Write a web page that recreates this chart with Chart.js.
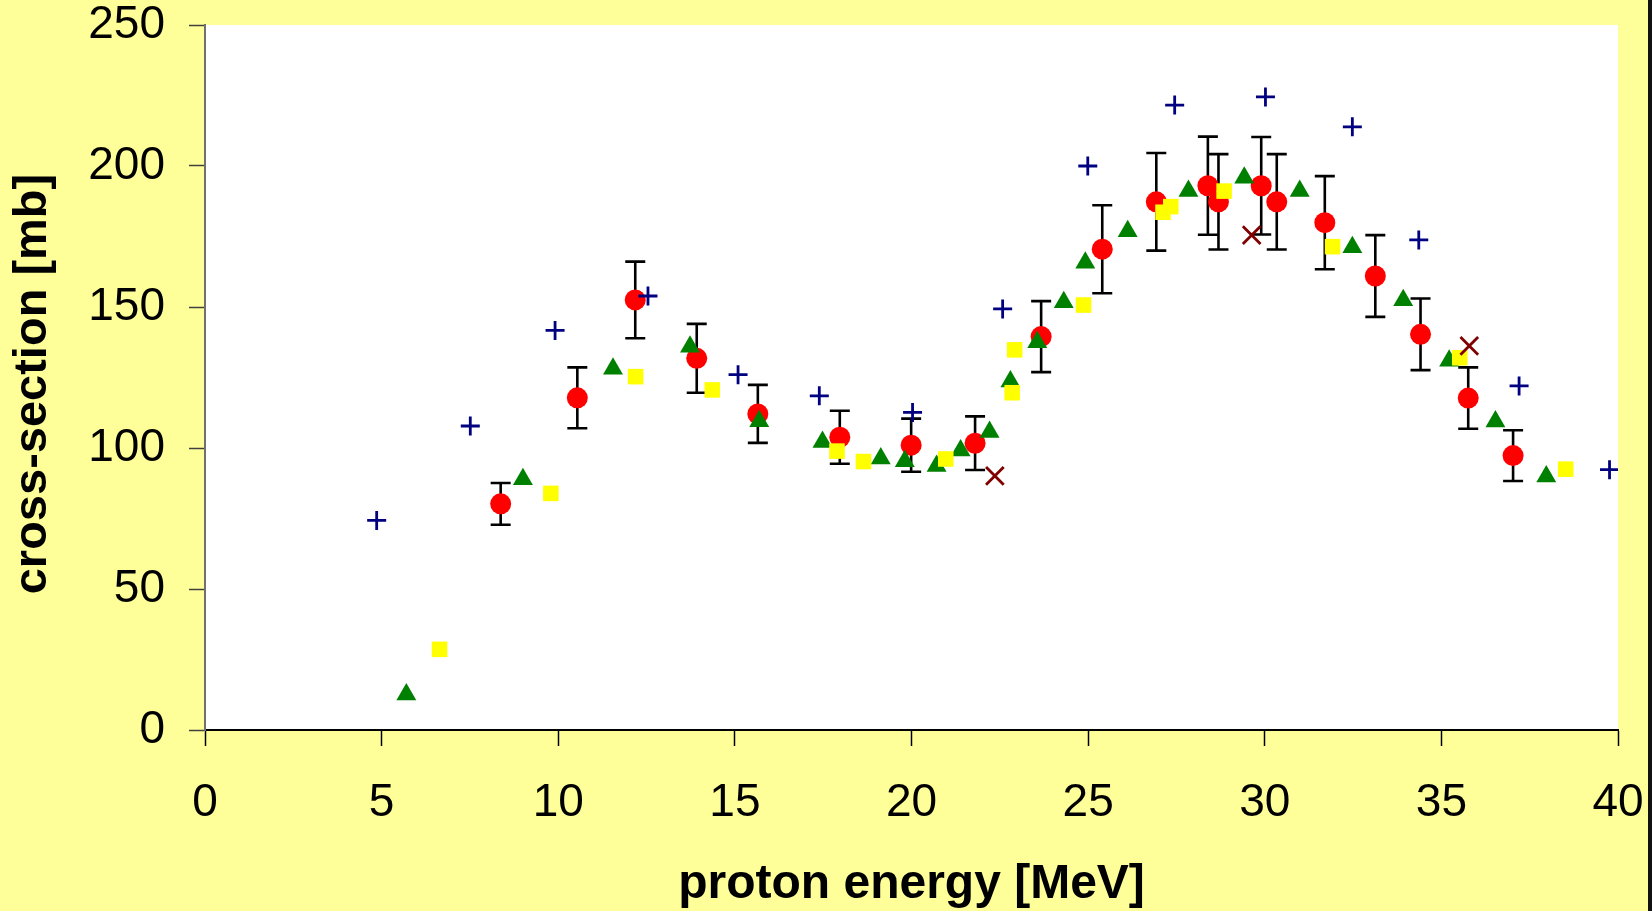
<!DOCTYPE html>
<html>
<head>
<meta charset="utf-8">
<title>Proton-induced cross-section</title>
<script src="https://cdn.jsdelivr.net/npm/chart.js@4/dist/chart.umd.min.js"></script>
<style>
  html, body { margin: 0; padding: 0; background: #FFFF99; }
  #wrap { width: 1652px; height: 911px; position: relative; }
  canvas { display: block; }
</style>
</head>
<body>
<div id="wrap"><canvas id="chart" width="1652" height="911"></canvas></div>
<script>
// Energy / cross-section data sets (MeV, mb)
const plusX = [4.86, 7.51, 9.91, 12.54, 15.09, 17.39, 20.03, 22.58, 24.99, 27.45, 30.02, 32.48, 34.36, 37.20, 39.76];
const plusY = [74.3, 107.8, 141.7, 153.9, 126.0, 118.5, 112.6, 149.3, 200.0, 221.6, 224.5, 213.9, 173.8, 122.0, 92.3];

const redX = [8.37, 10.54, 12.18, 13.92, 15.65, 17.97, 19.99, 21.80, 23.67, 25.40, 26.93, 28.39, 28.69, 29.90, 30.34, 31.70, 33.13, 34.41, 35.76, 37.03];
const redY = [80.2, 117.8, 152.5, 131.8, 112.1, 103.8, 101.0, 101.7, 139.5, 170.5, 187.3, 193.0, 187.3, 193.0, 187.3, 179.9, 161.0, 140.3, 117.7, 97.3];
const redErr = [7.4, 10.8, 13.6, 12.2, 10.3, 9.4, 9.4, 9.5, 12.6, 15.6, 17.3, 17.4, 16.9, 17.3, 16.9, 16.5, 14.5, 12.7, 10.9, 9.0];

const greenX = [5.70, 9.00, 11.55, 13.73, 15.69, 17.48, 19.13, 19.81, 20.71, 21.39, 22.21, 22.80, 23.56, 24.31, 24.92, 26.12, 27.84, 29.42, 30.99, 32.48, 33.92, 35.22, 36.53, 37.97];
const greenY = [12.6, 88.9, 128.1, 135.9, 109.5, 102.1, 96.3, 95.3, 93.6, 99.1, 105.7, 123.6, 137.5, 151.7, 165.7, 176.9, 191.1, 195.8, 191.1, 171.2, 152.4, 130.9, 109.4, 89.9];

const yellowX = [6.64, 9.79, 12.19, 14.36, 17.89, 18.64, 20.97, 22.85, 22.92, 24.87, 27.12, 27.34, 28.85, 31.92, 35.52, 38.52];
const yellowY = [28.6, 83.9, 125.3, 120.6, 98.9, 95.2, 96.1, 119.6, 134.8, 150.7, 183.6, 185.6, 191.1, 171.4, 132.0, 92.5];

const crossX = [22.36, 29.63, 35.79];
const crossY = [90.1, 175.5, 136.2];

// Axis ranges and tick steps
const xRange = [0, 40], xStep = 5;
const yRange = [0, 250], yStep = 50;

const pts = (xs, ys) => xs.map((x, i) => ({ x, y: ys[i] }));

// Page background, white plot area and the dark strip on the right edge
const backdrop = {
  id: 'backdrop',
  beforeDraw(chart) {
    const { ctx, chartArea: a, width, height } = chart;
    ctx.save();
    ctx.fillStyle = '#FFFF99';
    ctx.fillRect(0, 0, width, height);
    ctx.fillStyle = '#FFFFFF';
    ctx.fillRect(a.left, a.top, a.right - a.left, a.bottom - a.top);
    ctx.fillStyle = '#111111';
    ctx.fillRect(width - 4, 0, 4, height);
    ctx.restore();
  }
};

// Vertical error bars with caps for the red series
const errorBars = {
  id: 'errorBars',
  beforeDatasetsDraw(chart) {
    const { ctx, scales: { x, y } } = chart;
    ctx.save();
    ctx.strokeStyle = '#000000';
    ctx.lineWidth = 2.6;
    ctx.lineCap = 'butt';
    const cap = 10;
    redX.forEach((ex, i) => {
      const px = x.getPixelForValue(ex);
      const top = y.getPixelForValue(redY[i] + redErr[i]);
      const bot = y.getPixelForValue(redY[i] - redErr[i]);
      ctx.beginPath();
      ctx.moveTo(px, top); ctx.lineTo(px, bot);
      ctx.moveTo(px - cap, top); ctx.lineTo(px + cap, top);
      ctx.moveTo(px - cap, bot); ctx.lineTo(px + cap, bot);
      ctx.stroke();
    });
    ctx.restore();
  }
};

// Fixed scale box sizes; the plot margins come from the layout padding alone
const fixBox = (size, prop) => (s) => {
  s[prop] = size;
  s.paddingTop = 0; s.paddingBottom = 0; s.paddingLeft = 0; s.paddingRight = 0;
};

const family = '"Liberation Sans", Arial, sans-serif';
const tickFont = { family, size: 46, lineHeight: 1 };

new Chart(document.getElementById('chart'), {
  type: 'scatter',
  data: {
    datasets: [
      { label: 'plus', data: pts(plusX, plusY), order: 0, pointStyle: 'cross', pointRadius: 9.5,
        borderColor: '#000080', backgroundColor: '#000080', borderWidth: 2.8 },
      { label: 'cross', data: pts(crossX, crossY), order: 1, pointStyle: 'crossRot', pointRadius: 12.5,
        borderColor: '#800000', backgroundColor: '#800000', borderWidth: 2.8 },
      { label: 'square', data: pts(yellowX, yellowY), order: 2, pointStyle: 'rect', pointRadius: 11,
        borderColor: '#FFFF00', backgroundColor: '#FFFF00', borderWidth: 0 },
      { label: 'triangle', data: pts(greenX, greenY), order: 3, pointStyle: 'triangle', pointRadius: 11.5,
        borderColor: '#008000', backgroundColor: '#008000', borderWidth: 0 },
      { label: 'circle', data: pts(redX, redY), order: 4, pointStyle: 'circle', pointRadius: 10.5,
        borderColor: '#FF0000', backgroundColor: '#FF0000', borderWidth: 0 }
    ]
  },
  options: {
    responsive: false,
    animation: false,
    devicePixelRatio: 1,
    events: [],
    layout: { padding: { top: 25, right: 34, bottom: 0, left: 0 } },
    plugins: { legend: { display: false }, tooltip: { enabled: false } },
    elements: { point: { hoverRadius: 0 } },
    scales: {
      x: {
        type: 'linear', min: xRange[0], max: xRange[1],
        afterFit: fixBox(181, 'height'),
        ticks: { stepSize: xStep, color: '#000000', font: tickFont, padding: 34, maxRotation: 0 },
        grid: { drawOnChartArea: false, drawTicks: true, tickLength: 16, tickColor: '#000000', tickWidth: 1.5 },
        border: { display: true, color: '#000000', width: 2 },
        title: { display: true, text: 'proton energy [MeV]', color: '#000000',
                 font: { family, size: 48, weight: 'bold', lineHeight: 1 },
                 padding: { top: 0, bottom: 2 } }
      },
      y: {
        type: 'linear', min: yRange[0], max: yRange[1],
        afterFit: fixBox(205, 'width'),
        ticks: { stepSize: yStep, color: '#000000', font: tickFont, padding: 24 },
        grid: { drawOnChartArea: false, drawTicks: true, tickLength: 16, tickColor: '#404040', tickWidth: 1.5 },
        border: { display: true, color: '#707070', width: 2 },
        title: { display: true, text: 'cross-section [mb] ', color: '#000000',
                 font: { family, size: 47, weight: 'bold', lineHeight: 1 },
                 padding: { top: 10, bottom: 0 } }
      }
    }
  },
  plugins: [backdrop, errorBars]
});
</script>
</body>
</html>
